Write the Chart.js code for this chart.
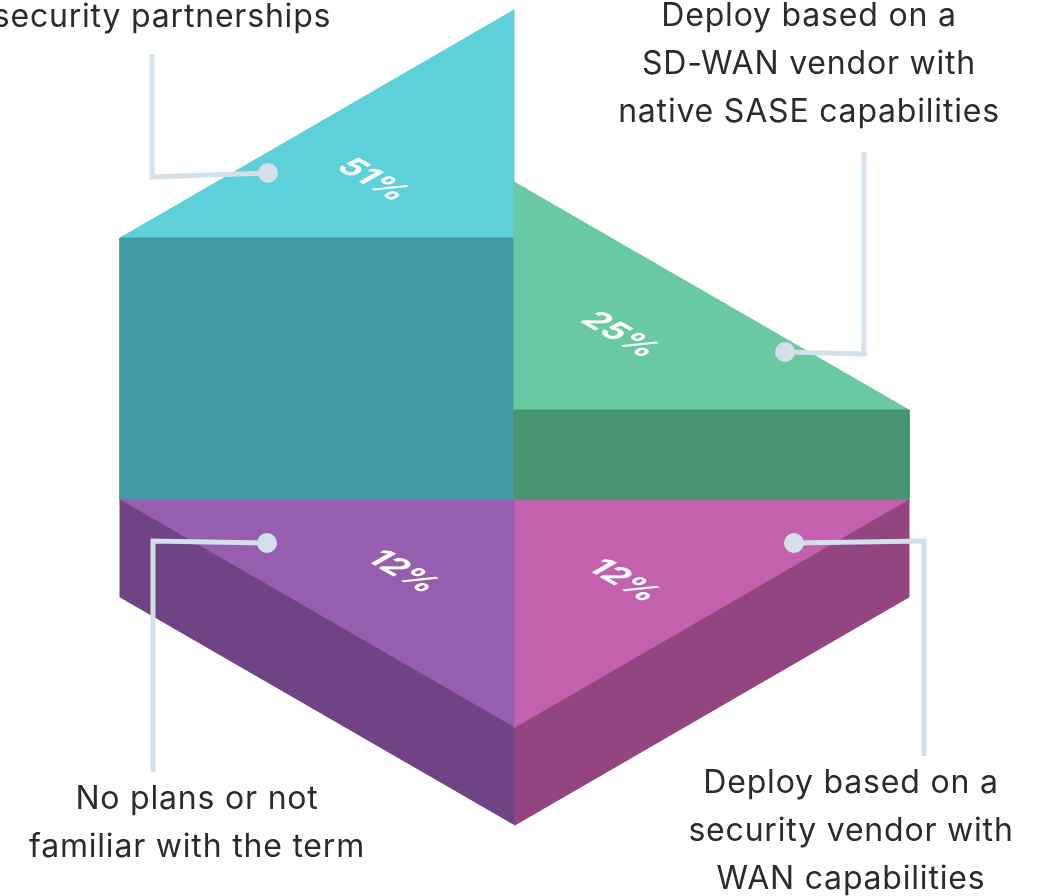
<!DOCTYPE html>
<html>
<head>
<meta charset="utf-8">
<title>SASE deployment plans</title>
<script src="https://cdn.jsdelivr.net/npm/chart.js@4"></script>
<style>
  html, body { margin: 0; padding: 0; background: #fff; overflow: hidden; }
  canvas { display: block; }
</style>
</head>
<body>
<canvas id="chart" width="1040" height="896"></canvas>
<script>
'use strict';

/* ─── DATA ───────────────────────────────────────────────── */
const categories = [
  ['security partnerships'],
  ['Deploy based on a', 'SD-WAN vendor with', 'native SASE capabilities'],
  ['No plans or not', 'familiar with the term'],
  ['Deploy based on a', 'security vendor with', 'WAN capabilities'],
];
const shares      = [51, 25, 12, 12];
const wallHeights = [262, 90, 97, 97];

/* ─── STYLE / GEOMETRY ───────────────────────────────────── */
const TOP_COLORS  = ['#5DD0DA', '#68C9A3', '#975EB0', '#C361AE'];
const WALL_COLORS = ['#449AA6', '#47946F', '#6F4384', '#934580'];
const LEADER      = '#D3DFE9';
const SIDE_L = 394, SIDE_R = 395, RISE = 228, LOW_SEAM = 1;

const leaderPaths = [
  [[-362, 446], [-362, 323], [-246, 327]],
  [[350, 348], [350, 146], [271, 148]],
  [[-361, -272], [-361, -41], [-247, -43]],
  [[410, -256], [410, -41], [280, -43]],
];
const labelAnchors = [
  { x: -352, y: 473 }, { x: 295, y: 474 }, { x: -317, y: -309 }, { x: 337, y: -293 },
];
const shareAnchors = [
  { x: -141, y: 320 }, { x: 106, y: 165 }, { x: -111, y: -72 }, { x: 110, y: -81 },
];

function pts(list) {
  return list.map(p => ({ x: p[0], y: p[1] }));
}

function poly(list, color) {
  return {
    data: pts(list.concat([list[0]])),
    showLine: true, fill: 'shape', backgroundColor: color,
    borderColor: color, borderWidth: 1, pointRadius: 0, tension: 0,
  };
}

/* upper blocks stand on the base line, lower ones hang below it */
function upperBlock(i, side) {
  const h = wallHeights[i];
  const w = side < 0 ? -SIDE_L : SIDE_R;
  return [
    poly([[w, 0], [0, 0], [0, h], [w, h]], WALL_COLORS[i]),
    poly([[w, h], [0, h], [0, h + RISE]], TOP_COLORS[i]),
  ];
}

function lowerBlock(i, side) {
  const h = wallHeights[i];
  const w = side < 0 ? -SIDE_L : SIDE_R;
  return [
    poly([[w, 0], [LOW_SEAM, -RISE], [LOW_SEAM, -RISE - h], [w, -h]], WALL_COLORS[i]),
    poly([[w, 0], [LOW_SEAM, 0], [LOW_SEAM, -RISE]], TOP_COLORS[i]),
  ];
}

const leaderSets = leaderPaths.map(path => ({
  data: pts(path),
  showLine: true, fill: false, borderColor: LEADER, borderWidth: 5,
  backgroundColor: LEADER, pointBackgroundColor: LEADER, pointBorderWidth: 0,
  pointRadius: [0, 0, 10], tension: 0, borderJoinStyle: 'miter',
}));

/* ─── TEXT PLUGIN ────────────────────────────────────────── */
const textPlugin = {
  id: 'blockText',
  afterDraw(chart) {
    const { ctx, scales } = chart;
    const { x, y } = scales;
    ctx.save();

    ctx.fillStyle = '#2B2B2B';
    ctx.font = '400 32px Inter';
    ctx.letterSpacing = '0.8px';
    ctx.textAlign = 'center';
    ctx.textBaseline = 'alphabetic';
    categories.forEach((lines, i) => {
      lines.forEach((line, n) => {
        ctx.fillText(line, x.getPixelForValue(labelAnchors[i].x), y.getPixelForValue(labelAnchors[i].y) + n * 48);
      });
    });

    ctx.fillStyle = '#FFFFFF';
    ctx.font = '700 33px Inter';
    ctx.letterSpacing = '0px';
    ctx.textBaseline = 'middle';
    shares.forEach((v, i) => {
      ctx.save();
      ctx.translate(x.getPixelForValue(shareAnchors[i].x), y.getPixelForValue(shareAnchors[i].y));
      ctx.transform(0.866, 0.5, -0.866, 0.5, 0, 0);
      ctx.fillText(v + '%', 0, 0);
      ctx.restore();
    });
    ctx.restore();
  },
};

/* ─── CHART ──────────────────────────────────────────────── */
new Chart(document.getElementById('chart').getContext('2d'), {
  type: 'scatter',
  data: {
    datasets: [
      ...leaderSets,
      ...lowerBlock(3, 1),
      ...lowerBlock(2, -1),
      ...upperBlock(1, 1),
      ...upperBlock(0, -1),
    ],
  },
  options: {
    responsive: false,
    animation: false,
    layout: { padding: 0, autoPadding: false },
    plugins: { legend: { display: false }, tooltip: { enabled: false } },
    scales: {
      x: { type: 'linear', display: false, min: -514, max: 526 },
      y: { type: 'linear', display: false, min: -396, max: 500 },
    },
  },
  plugins: [textPlugin],
});
</script>
</body>
</html>
